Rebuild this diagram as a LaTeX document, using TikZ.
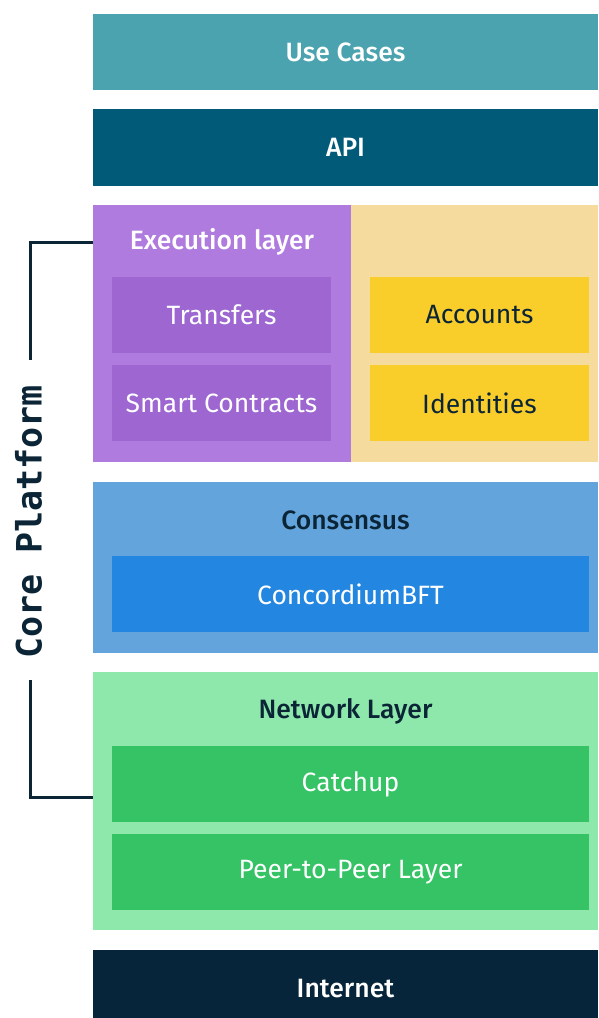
\documentclass[tikz,border=0pt]{standalone}
\usepackage{fontspec}
\setmainfont{Fira Sans}[BoldFont={Fira Sans Medium}]
\newfontfamily\coremono{DejaVu Sans Mono}
\usetikzlibrary{positioning, calc}
\definecolor{ccteal}{HTML}{4AA3AE}
\definecolor{ccapi}{HTML}{015A78}
\definecolor{ccpurple}{HTML}{B07BDF}
\definecolor{ccdarkpurple}{HTML}{9D66D1}
\definecolor{ccsand}{HTML}{F5DB9E}
\definecolor{ccyellow}{HTML}{F9CE2B}
\definecolor{ccblue}{HTML}{62A4DB}
\definecolor{ccdeepblue}{HTML}{2386E0}
\definecolor{cclightgreen}{HTML}{8EE8AB}
\definecolor{ccgreen}{HTML}{35C366}
\definecolor{ccnavy}{HTML}{06243A}
\definecolor{ccink}{HTML}{0B2537}

\begin{document}
\begin{tikzpicture}[
  x=1pt, y=1pt,
  every node/.style={font=\fontsize{26.5}{30}\selectfont, inner sep=0pt, outer sep=0pt},
  lbox/.style={rectangle, minimum width=505pt, align=center, text=white, font=\fontsize{26.5}{30}\selectfont\bfseries},
  sbox/.style={rectangle, minimum width=219pt, minimum height=76pt, align=center, text=white},
  hlabel/.style={font=\fontsize{26.5}{30}\selectfont\bfseries, text=ccink},
  bracket/.style={draw=ccink, line width=3pt},
]
\useasboundingbox (0,0) rectangle (598,-1018);

% Top layers
\node[lbox, fill=ccteal, minimum height=76pt] (usecases) at (345.5,-52) {Use Cases};
\node[lbox, fill=ccapi, minimum height=77pt] (api) at (345.5,-147.5) {API};

% Execution layer and state
\node[rectangle, fill=ccpurple, minimum width=258pt, minimum height=257pt] (exec) at (222,-333.5) {};
\node[rectangle, fill=ccsand, minimum width=247pt, minimum height=257pt] (state) at (474.5,-333.5) {};
\node[hlabel, text=white] (execlbl) at (222,-242) {Execution layer};
\node[sbox, fill=ccdarkpurple] (transfers) at (221.5,-315) {Transfers};
\node[sbox, fill=ccdarkpurple] (contracts) at (221.5,-403) {Smart Contracts};
\node[sbox, fill=ccyellow, text=ccink] (accounts) at (479.5,-315) {Accounts};
\node[sbox, fill=ccyellow, text=ccink] (identities) at (479.5,-403) {Identities};

% Consensus
\node[lbox, fill=ccblue, minimum height=171pt] (consensus) at (345.5,-567.5) {};
\node[hlabel] (conslbl) at (345.5,-520) {Consensus};
\node[sbox, fill=ccdeepblue, minimum width=477pt] (bft) at (350.5,-594) {ConcordiumBFT};

% Network layer
\node[lbox, fill=cclightgreen, minimum height=258pt] (network) at (345.5,-801) {};
\node[hlabel] (netlbl) at (345.5,-711) {Network Layer};
\node[sbox, fill=ccgreen, minimum width=477pt] (catchup) at (350.5,-784) {Catchup};
\node[sbox, fill=ccgreen, minimum width=477pt] (p2p) at (350.5,-872) {Peer-to-Peer Layer};

% Internet
\node[lbox, fill=ccnavy, minimum height=78pt] (internet) at (345.5,-989) {Internet};

% Core platform bracket
\node[rotate=90, text=ccink, font=\fontsize{35}{40}\selectfont\coremono\bfseries] (core) at (28.5,-522) {Core Platform};
\coordinate (brtop) at (30,-360);
\coordinate (brbot) at (30,-680);
\coordinate (netpin) at (93,-797);
\draw[bracket] (exec.west |- execlbl) -| (brtop);
\draw[bracket] (brbot) |- (netpin);

\end{tikzpicture}
\end{document}
